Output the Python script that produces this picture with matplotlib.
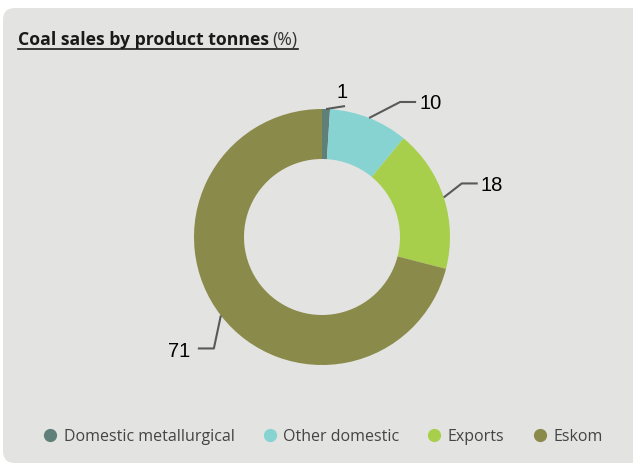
import numpy as np
import matplotlib.pyplot as plt
from matplotlib.patches import FancyBboxPatch
from matplotlib.lines import Line2D

labels = ["Domestic metallurgical", "Other domestic", "Exports", "Eskom"]
values = [1, 10, 18, 71]
colors = ["#5e8078", "#86d3d1", "#a8cf4c", "#8a8a4a"]
# label elbow / end offsets in pixels from the wedge edge point
elbow_off = [(19, 3), (31, 16), (18, 14), (-7, -33)]
tail_len = [0, 16, 16, -16]

W, H = 633, 465
fig = plt.figure(figsize=(W / 100, H / 100), dpi=100)
fig.patch.set_facecolor("white")
ax = fig.add_axes([0, 0, 1, 1])

# grey panel
panel = FancyBboxPatch((3, 2), 660, 455, boxstyle="round,pad=0,rounding_size=12",
                       fc="#e3e3e1", ec="none")
ax.add_patch(panel)

cx, cy, R = 322, 228, 128
wedges, _ = ax.pie(values, colors=colors, startangle=90, counterclock=False,
                   radius=R, center=(cx, cy),
                   wedgeprops=dict(width=50, edgecolor="none"))
ax.set_xlim(0, W)
ax.set_ylim(0, H)
ax.set_aspect("equal")
ax.axis("off")

for w, v, off, tl in zip(wedges, values, elbow_off, tail_len):
    ang = np.deg2rad((w.theta1 + w.theta2) / 2)
    x0 = cx + R * np.cos(ang)
    y0 = cy + R * np.sin(ang)
    x1, y1 = x0 + off[0], y0 + off[1]
    x2 = x1 + tl
    ax.plot([x0, x1, x2], [y0, y1, y1], color="#595959", lw=1.5, solid_capstyle="butt")
    if tl == 0:
        ax.text(x1 - 3, y1 + 4, str(v), ha="center", va="bottom",
                fontsize=14.5, family="Liberation Sans", color="black")
    elif tl > 0:
        ax.text(x2 + 3, y1 - 2, str(v), ha="left", va="center",
                fontsize=14.5, family="Liberation Sans", color="black")
    else:
        ax.text(x2 - 8, y1 - 3, str(v), ha="right", va="center",
                fontsize=14.5, family="Liberation Sans", color="black")

# title
t1 = ax.text(18, H - 40, "Coal sales by product tonnes", fontsize=12.7, fontweight="bold",
             family="Open Sans", color="#1a1a1a", va="center")
fig.canvas.draw()
bb = t1.get_window_extent()
t2 = ax.text(bb.x1 + 3, H - 40, "(%)", fontsize=12.7, family="Open Sans",
             color="#333333", va="center")
fig.canvas.draw()
bb2 = t2.get_window_extent()
ax.plot([18, bb2.x1 + 1], [H - 49, H - 49], color="#1a1a1a", lw=1.2)

handles = [Line2D([], [], marker="o", ls="none", color=c, markersize=8.5) for c in colors]
leg = fig.legend(handles, labels, loc="center left", bbox_to_anchor=(38 / W, 1 - 437 / H),
                 ncol=4, frameon=False, handletextpad=0.1, columnspacing=1.45,
                 handlelength=1.5, borderaxespad=0, borderpad=0,
                 prop={"family": "Open Sans", "size": 11.5})
for t in leg.get_texts():
    t.set_color("#444444")

fig.savefig("out.png", dpi=100, facecolor="white")
